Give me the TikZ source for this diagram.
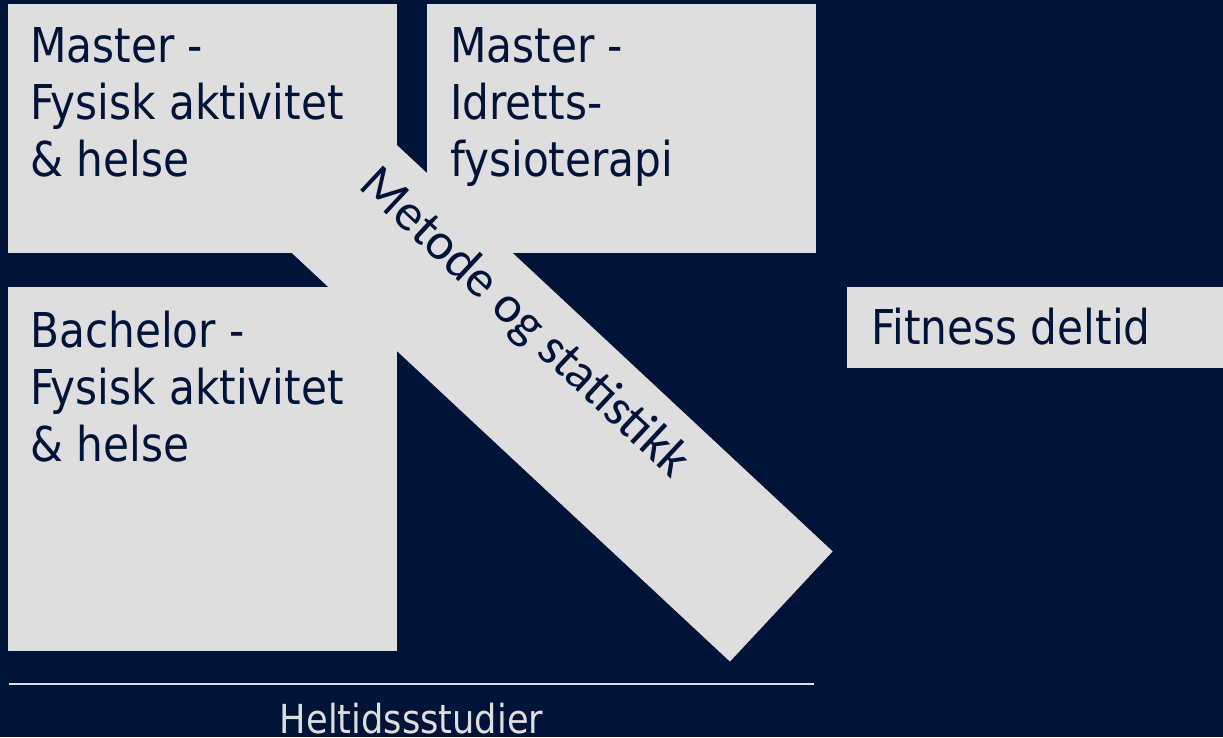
\documentclass[tikz,border=0pt]{standalone}
\usepackage{fontspec}
\newfontfamily\boxfont{DejaVu Sans}[FakeStretch=0.88]
\newfontfamily\diagfont{Carlito}
\definecolor{navy}{HTML}{001338}
\definecolor{panel}{HTML}{DEDEDE}
\begin{document}
\begin{tikzpicture}[x=1pt,y=-1pt,
  panelbox/.style={fill=panel, draw=none, anchor=north west, inner sep=0pt, outer sep=0pt},
  boxtext/.style={anchor=north west, inner sep=0pt, align=left, text=navy,
    font=\boxfont\fontsize{48}{57}\selectfont},
  bandtext/.style={anchor=base, inner sep=0pt, rotate=-43, text=navy,
    font=\diagfont\fontsize{52}{60}\selectfont},
  foottext/.style={anchor=base, inner sep=0pt, text=panel,
    font=\boxfont\fontsize{40}{48}\selectfont},
  rule/.style={draw=panel, line width=2.5pt}]
\fill[navy] (0,0) rectangle (1223,737);
\useasboundingbox (0,0) rectangle (1223,737);
% boxes
\node[panelbox, minimum width=389pt, minimum height=249.5pt] (mfa) at (8,3.5) {};
\node[panelbox, minimum width=389pt, minimum height=249.5pt] (mif) at (427,3.5) {};
\node[panelbox, minimum width=389pt, minimum height=364pt] (bfa) at (8,287) {};
\node[panelbox, minimum width=376pt, minimum height=81pt] (fit) at (847,287) {};
% diagonal band
\node[fill=panel, draw=none, inner sep=0pt, rotate=-43,
  minimum width=650pt, minimum height=150.6pt] (band) at (543.6,384.8) {};
\node[bandtext] (bandlbl) at (514.8,333.6) {Metode og statistikk};
% box texts
\node[boxtext] (t1) at (30,27) {Master -\\Fysisk aktivitet\\\& helse};
\node[boxtext] (t2) at (450,27) {Master -\\Idretts-\\fysioterapi};
\node[boxtext] (t3) at (30,311) {Bachelor -\\Fysisk aktivitet\\\& helse};
\node[boxtext, anchor=base west] (t4) at (871,344) {Fitness deltid};
% rule and footer
\coordinate (ra) at (9,684);
\coordinate (rb) at (814,684);
\draw[rule] (ra) -- (rb);
\node[foottext] (foot) at (411.5,733) {Heltidssstudier};
\end{tikzpicture}
\end{document}
